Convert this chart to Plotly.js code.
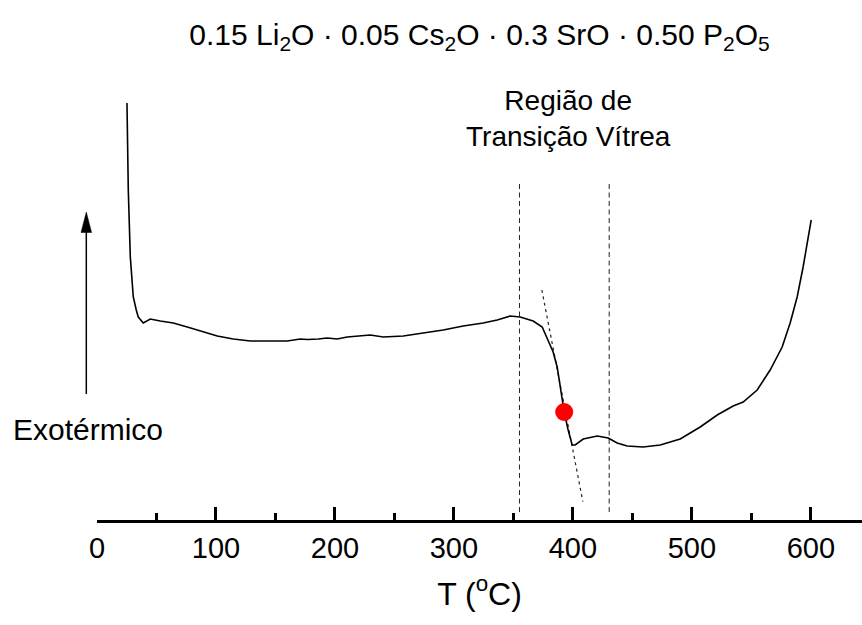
<!DOCTYPE html>
<html>
<head>
<meta charset="utf-8">
<script src="https://cdn.plot.ly/plotly-3.0.1.min.js"></script>
<style>html,body{margin:0;padding:0;background:#fff;}#chart{width:862px;height:625px;}</style>
</head>
<body>
<div id="chart"></div>
<script>
// DSC curve: temperature (°C) and heat-flow signal (arbitrary units)
const temperature = [25.2, 26.3, 28.0, 30.5, 33.0, 34.7, 38.9, 44.8, 53.2, 64.1, 75.9, 86.8, 101.1, 114.5, 128.8, 143.1, 159.9, 170.8, 176.7, 186.0, 193.5, 201.9, 210.3, 229.7, 240.6, 257.4, 274.2, 291.0, 307.8, 324.6, 336.4, 347.3, 355.7, 366.6, 374.2, 379.2, 383.4, 386.8, 389.3, 392.7, 396.0, 399.4, 401.9, 408.7, 420.4, 429.7, 437.2, 445.6, 459.0, 473.4, 490.2, 507.0, 521.3, 534.7, 543.1, 554.9, 565.8, 575.9, 582.6, 588.5, 593.5, 600.3];
const heatFlow    = [41.7, 33.0, 26.3, 22.3, 21.0, 20.3, 19.7, 20.1, 19.9, 19.7, 19.3, 18.9, 18.4, 18.1, 17.9, 17.9, 17.9, 18.1, 18.05, 18.1, 18.2, 18.1, 18.3, 18.5, 18.3, 18.4, 18.7, 19.0, 19.4, 19.7, 20.0, 20.4, 20.3, 19.9, 19.3, 18.0, 16.8, 15.3, 13.3, 10.8, 9.0, 7.5, 7.5, 8.1, 8.4, 8.2, 7.7, 7.4, 7.3, 7.5, 8.1, 9.3, 10.5, 11.4, 11.8, 13.0, 15.0, 17.3, 19.7, 22.3, 25.3, 30.0];

// glass transition point (Tg)
const tgT = [392.7];
const tgY = [10.8];

// glass transition region boundaries
const regionStart = [355.1, 355.1];
const regionEnd   = [430.5, 430.5];
const regionY     = [0.8, 33.8];

// tangent line at the inflection
const tangentT = [373.9, 408.4];
const tangentY = [23.0, 1.83];

// axis ticks
const tickVals = [0, 100, 200, 300, 400, 500, 600];
const tickText = ['0', '100', '200', '300', '400', '500', '600'];

// exothermic arrow (signal units)
const arrowY = [12.6, 30.8];

const FONT = 'Arial, "Liberation Sans", sans-serif';

const traces = [
  {x: regionStart, y: regionY, mode: 'lines', line: {color: '#222', width: 1, dash: '5px,3.5px'}, hoverinfo: 'skip'},
  {x: regionEnd, y: regionY, mode: 'lines', line: {color: '#222', width: 1, dash: '5px,3.5px'}, hoverinfo: 'skip'},
  {x: tangentT, y: tangentY, mode: 'lines', line: {color: '#222', width: 1.2, dash: '3px,3.5px'}, hoverinfo: 'skip'},
  {x: temperature, y: heatFlow, mode: 'lines', line: {color: '#000', width: 1.6}},
  {x: tgT, y: tgY, mode: 'markers', marker: {color: '#ff0000', size: 18, line: {width: 0}}}
];

const xPaper = px => (px - 96.7) / 765.3;
const arrowX = xPaper(86);
const headY = arrowY[1] - 2.05;

const layout = {
  width: 862, height: 625,
  margin: {l: 96.7, r: 0, t: 80, b: 105},
  paper_bgcolor: '#fff', plot_bgcolor: '#fff',
  showlegend: false,
  font: {family: FONT, color: '#000'},
  title: {
    text: '0.15 Li<sub>2</sub>O · 0.05 Cs<sub>2</sub>O · 0.3 SrO · 0.50 P<sub>2</sub>O<sub>5</sub>',
    font: {size: 30, family: FONT, color: '#000'},
    x: 0.5, xref: 'paper', xanchor: 'center',
    y: 1 - 34 / 625, yref: 'container', yanchor: 'middle'
  },
  xaxis: {
    range: [0, 643],
    showline: true, linecolor: '#000', linewidth: 3,
    showgrid: false, zeroline: false,
    ticks: 'inside', ticklen: 13, tickwidth: 3, tickcolor: '#000',
    tickvals: tickVals, ticktext: tickText,
    tickfont: {size: 29, family: FONT, color: '#000'},
    minor: {ticks: 'inside', ticklen: 7, tickwidth: 3, tickcolor: '#000', dtick: 50, showgrid: false},
    title: {text: 'T (<sup>o</sup>C)', font: {size: 32, family: FONT, color: '#000'}, standoff: 20}
  },
  yaxis: {range: [0, 44], visible: false, showgrid: false, zeroline: false},
  shapes: [
    {type: 'line', xref: 'paper', yref: 'y', x0: arrowX, x1: arrowX, y0: arrowY[0], y1: headY + 0.3, line: {color: '#000', width: 1.5}},
    {type: 'path', xref: 'paper', yref: 'y',
     path: 'M' + arrowX + ',' + arrowY[1] + ' L' + xPaper(80.7) + ',' + headY + ' L' + xPaper(91.3) + ',' + headY + ' Z',
     fillcolor: '#000', line: {color: '#000', width: 0.5}}
  ],
  annotations: [
    {text: 'Região de<br>Transição Vítrea', x: 396, y: 40.2, xref: 'x', yref: 'y', showarrow: false,
     xanchor: 'center', yanchor: 'middle', font: {size: 28, family: FONT, color: '#000'}},
    {text: 'Exotérmico', x: xPaper(88), y: 9.1, xref: 'paper', yref: 'y', showarrow: false,
     xanchor: 'center', yanchor: 'middle', font: {size: 30, family: FONT, color: '#000'}}
  ]
};

Plotly.newPlot('chart', traces, layout, {displayModeBar: false, staticPlot: true});
</script>
</body>
</html>
